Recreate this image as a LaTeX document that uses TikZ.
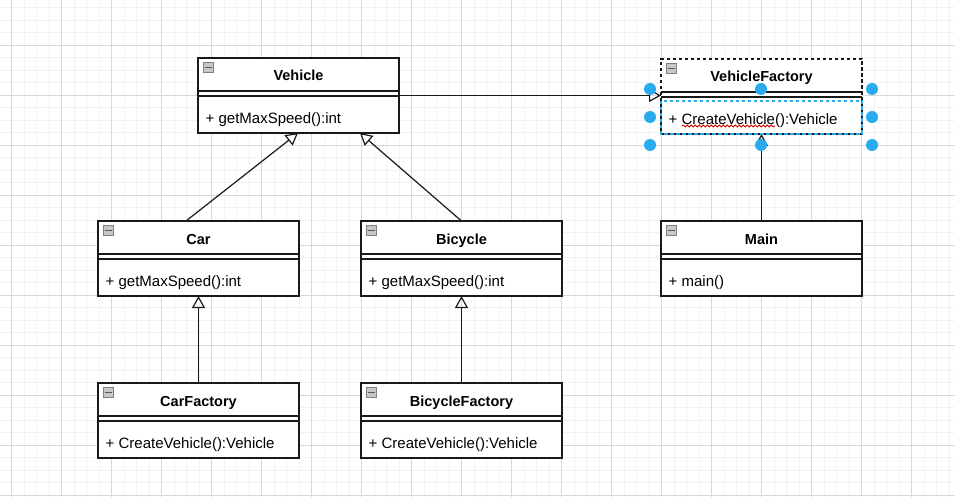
\documentclass[tikz,border=0pt]{standalone}
\usepackage{fontspec}
\setmainfont{Liberation Sans}
\usetikzlibrary{arrows.meta,calc,decorations.pathmorphing}
\definecolor{gridmajor}{RGB}{216,216,216}
\definecolor{gridminor}{RGB}{242,242,242}
\definecolor{handle}{RGB}{41,171,238}
\definecolor{iconfill}{RGB}{200,200,200}
\definecolor{boxline}{RGB}{25,25,25}
\tikzset{
  classbox/.style={draw=boxline, line width=1.3pt, fill=white, minimum width=201pt, minimum height=75pt, inner sep=0pt, outer sep=0pt, anchor=north west},
  titletext/.style={font=\fontsize{14.5}{17}\selectfont\bfseries, inner sep=0pt, anchor=base},
  methtext/.style={font=\fontsize{15}{17}\selectfont, inner sep=0pt, anchor=base west},
  sepline/.style={draw=boxline, line width=1.3pt},
  iconbox/.style={draw=gray, fill=iconfill, minimum size=10pt, inner sep=0pt, line width=0.7pt},
  iconbar/.style={draw=black!65, line width=1.4pt},
  inherit/.style={draw=boxline, line width=1.2pt, -{Triangle[open, length=12pt, width=13pt, line width=1.2pt]}},
  gridminorline/.style={draw=gridminor, line width=0.7pt},
  gridmajorline/.style={draw=gridmajor, line width=0.7pt},
  selbox/.style={dash pattern=on 3.5pt off 2.5pt},
  selcomp/.style={draw=handle, line width=1.2pt, dash pattern=on 3.5pt off 2.5pt},
  handledot/.style={fill=handle},
  spellline/.style={draw=red!85!black, line width=0.8pt, decorate, decoration={snake, amplitude=1.1pt, segment length=4pt}}
}
\newcommand\umlclass[6][]{%
  \node[classbox,#1] (#2) at (#3,#4) {};
  \draw[sepline] ([yshift=-33pt]#2.north west) -- ([yshift=-33pt]#2.north east);
  \draw[sepline] ([yshift=-38pt]#2.north west) -- ([yshift=-38pt]#2.north east);
  \node[titletext] (#2-title) at ([yshift=-23pt]#2.north) {#5};
  \node[methtext] (#2-op) at ([xshift=7.5pt,yshift=-65.5pt]#2.north west) {#6};
  \node[iconbox] (#2-icon) at ([xshift=10pt,yshift=-9.5pt]#2.north west) {};
  \draw[iconbar] ([xshift=-3.5pt]#2-icon.center) -- ([xshift=3.5pt]#2-icon.center);
}
\begin{document}
\begin{tikzpicture}[x=1pt,y=-1pt]
\useasboundingbox (0,0) rectangle (955,497);
\fill[white] (0,0) rectangle (955,497);
% grid
\foreach \k in {0,...,77} { \draw[gridminorline] ({-0.8+12.5*\k},0) -- ++(0,497); }
\foreach \k in {0,...,40} { \draw[gridminorline] (0,{7.5+12.5*\k}) -- ++(955,0); }
\foreach \k in {0,...,19} { \draw[gridmajorline] ({11.7+50*\k},0) -- ++(0,497); }
\foreach \k in {0,...,9} { \draw[gridmajorline] (0,{45+50*\k}) -- ++(955,0); }
% classes
\umlclass{Vehicle}{198}{58}{Vehicle}{+ getMaxSpeed():int}
\umlclass[selbox]{VehicleFactory}{661}{59}{VehicleFactory}{+ CreateVehicle():Vehicle}
\umlclass{Car}{98}{221}{Car}{+ getMaxSpeed():int}
\umlclass{Bicycle}{361}{221}{Bicycle}{+ getMaxSpeed():int}
\umlclass{Main}{661}{221}{Main}{+ main()}
\umlclass{CarFactory}{98}{383}{CarFactory}{+ CreateVehicle():Vehicle}
\umlclass{BicycleFactory}{361}{383}{BicycleFactory}{+ CreateVehicle():Vehicle}
% connectors
\draw[inherit] ([xshift=-12.5pt]Car.north) -- ([xshift=-0.5pt]Vehicle.south);
\draw[inherit] (Bicycle.north) -- ([xshift=61.5pt]Vehicle.south);
\draw[inherit] (CarFactory.north) -- (Car.south);
\draw[inherit] (BicycleFactory.north) -- (Bicycle.south);
\draw[inherit] (Main.north) -- (VehicleFactory.south);
\draw[inherit] (Vehicle.east) -- (Vehicle.east -| VehicleFactory.west);
% selection overlay
\draw[selcomp] ([yshift=-42pt]VehicleFactory.north west) rectangle (VehicleFactory.south east);
\draw[spellline] (682,126) -- (775,126);
\foreach \p in {(650,89),(761,89),(872,89),(650,117),(872,117),(650,145),(761,145),(872,145)} { \fill[handledot] \p circle (6pt); }
\end{tikzpicture}
\end{document}
